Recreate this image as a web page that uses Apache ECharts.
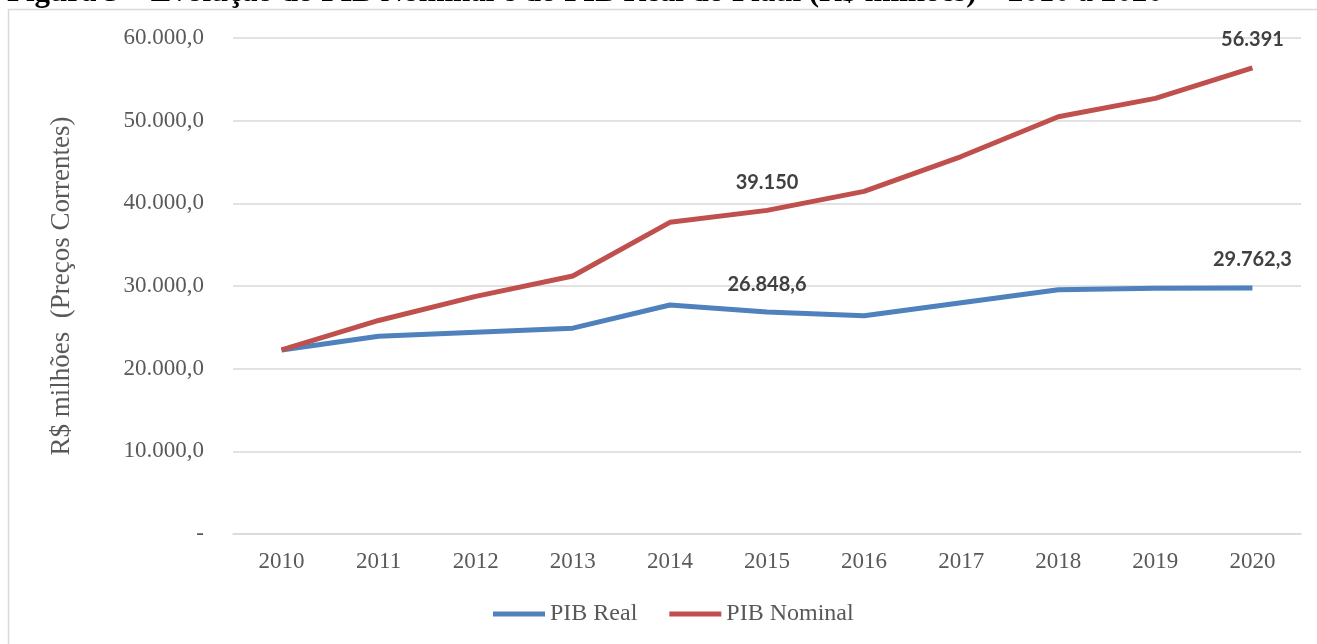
<!DOCTYPE html>
<html>
<head>
<meta charset="utf-8">
<script src="https://cdn.jsdelivr.net/npm/echarts@6/dist/echarts.min.js"></script>
<style>
  html, body { margin: 0; padding: 0; background: #fff; }
  #chart { width: 1317px; height: 644px; }
</style>
</head>
<body>
<div id="chart"></div>
<script>
// dados
const anos = ['2010', '2011', '2012', '2013', '2014', '2015', '2016', '2017', '2018', '2019', '2020']
const pibReal = [22270, 23920, 24410, 24900, 27700, 26848.6, 26400, 27970, 29550, 29740, 29762.3]
const pibNominal = [22270, 25830, 28750, 31210, 37700, 39150, 41450, 45660, 50480, 52700, 56391]
// anos com rótulo de valor
const anosRotulados = ['2015', '2020']

const serif = '"Liberation Serif", "Times New Roman", serif'
const sans = 'Lato, "Open Sans", sans-serif'

// formata no padrão brasileiro: 12.345,6
function fmtBR (v, decimais) {
  const partes = v.toFixed(decimais).split('.')
  const inteiro = partes[0].replace(/\B(?=(\d{3})+(?!\d))/g, '.')
  return partes.length > 1 ? inteiro + ',' + partes[1] : inteiro
}

function fmtEixo (v) {
  if (v === 0) return '-'
  return fmtBR(v, 1)
}

function rotulo (decimais) {
  return {
    show: true,
    position: 'top',
    distance: 18,
    fontFamily: sans,
    fontWeight: 'bold',
    fontSize: 20,
    color: '#404040',
    formatter: function (p) {
      if (anosRotulados.indexOf(p.name) < 0) return ''
      return fmtBR(p.value, decimais)
    }
  }
}

const myChart = echarts.init(document.getElementById('chart'))
myChart.setOption({
  animation: false,
  graphic: [
    {
      type: 'rect',
      shape: { x: 8.5, y: 9.5, width: 1330, height: 660 },
      style: { fill: 'none', stroke: '#d9d9d9', lineWidth: 1.5 },
      silent: true
    },
    {
      type: 'text',
      x: 7,
      y: 8,
      style: {
        text: 'Figura 5 – Evolução do PIB Nominal e do PIB Real do Piauí (R$ milhões) – 2010 a 2020',
        fontFamily: serif,
        fontWeight: 'bold',
        fontSize: 31,
        verticalAlign: 'bottom',
        fill: '#000'
      }
    }
  ],
  grid: { left: 233, right: 16, top: 38, bottom: 110 },
  legend: {
    bottom: 13,
    left: 488,
    itemWidth: 52,
    itemHeight: 5,
    itemGap: 32,
    icon: 'rect',
    textStyle: { fontFamily: serif, fontSize: 24, color: '#595959' },
    data: ['PIB Real', 'PIB Nominal']
  },
  xAxis: {
    type: 'category',
    data: anos,
    boundaryGap: true,
    axisLine: { lineStyle: { color: '#d9d9d9', width: 1.5 } },
    axisTick: { show: false },
    axisLabel: { fontFamily: serif, fontSize: 23, color: '#595959', margin: 16 }
  },
  yAxis: {
    type: 'value',
    min: 0,
    max: 60000,
    interval: 10000,
    name: 'R$ milhões  (Preços Correntes)',
    nameLocation: 'middle',
    nameGap: 158,
    nameRotate: 90,
    nameTextStyle: { fontFamily: serif, fontSize: 27, color: '#595959' },
    axisLine: { show: false },
    axisTick: { show: false },
    splitLine: { lineStyle: { color: '#d9d9d9', width: 1.5 } },
    axisLabel: { fontFamily: serif, fontSize: 23, color: '#595959', margin: 29, formatter: fmtEixo }
  },
  color: ['#4f81bd', '#c0504d'],
  series: [
    {
      name: 'PIB Real',
      type: 'line',
      data: pibReal,
      symbol: 'circle',
      symbolSize: 0,
      lineStyle: { width: 5 },
      label: rotulo(1)
    },
    {
      name: 'PIB Nominal',
      type: 'line',
      data: pibNominal,
      symbol: 'circle',
      symbolSize: 0,
      lineStyle: { width: 5 },
      label: rotulo(0)
    }
  ]
})
</script>
</body>
</html>
